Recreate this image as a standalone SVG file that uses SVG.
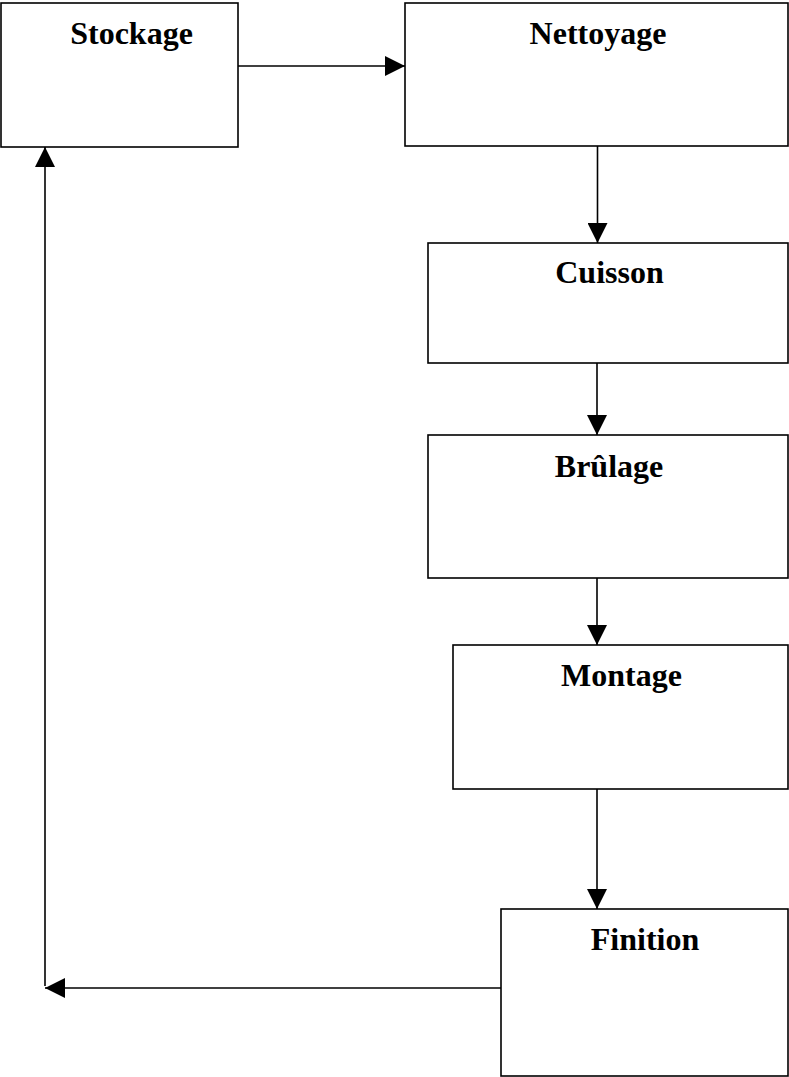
<svg xmlns="http://www.w3.org/2000/svg" width="789" height="1077" viewBox="0 0 789 1077">
<style>
.box{fill:#fff;stroke:#000;stroke-width:1.6}
.lbl{font-family:"Liberation Serif","Times New Roman",serif;font-weight:bold;font-size:32px;fill:#000;text-anchor:middle}
.edge{fill:none;stroke:#000;stroke-width:1.6}
</style>
<defs>
<marker id="ah" markerUnits="userSpaceOnUse" markerWidth="20" markerHeight="20" refX="20" refY="10" orient="auto">
<path d="M0,0 L20,10 L0,20 z" fill="#000"/>
</marker>
</defs>
<rect width="789" height="1077" fill="#fff"/>
<g id="connectors">
<path class="edge" d="M238,66 H405" marker-end="url(#ah)"/>
<path class="edge" d="M597.5,146 V243" marker-end="url(#ah)"/>
<path class="edge" d="M597,363 V435" marker-end="url(#ah)"/>
<path class="edge" d="M597,578 V645" marker-end="url(#ah)"/>
<path class="edge" d="M597,789 V909" marker-end="url(#ah)"/>
<path class="edge" d="M501,988 H45" marker-end="url(#ah)"/>
<path class="edge" d="M45,986 V147" marker-end="url(#ah)"/>
</g>
<g id="stockage">
<rect class="box" x="1" y="3" width="237" height="144"/>
<text class="lbl" x="131.5" y="44">Stockage</text>
</g>
<g id="nettoyage">
<rect class="box" x="405" y="3" width="383" height="143"/>
<text class="lbl" x="598" y="43.5">Nettoyage</text>
</g>
<g id="cuisson">
<rect class="box" x="428" y="243" width="360" height="120"/>
<text class="lbl" x="609.5" y="283">Cuisson</text>
</g>
<g id="brulage">
<rect class="box" x="428" y="435" width="360" height="143"/>
<text class="lbl" x="609" y="477">Brûlage</text>
</g>
<g id="montage">
<rect class="box" x="453" y="645" width="335" height="144"/>
<text class="lbl" x="621.5" y="686">Montage</text>
</g>
<g id="finition">
<rect class="box" x="501" y="909" width="287" height="167"/>
<text class="lbl" x="645" y="950">Finition</text>
</g>
</svg>
